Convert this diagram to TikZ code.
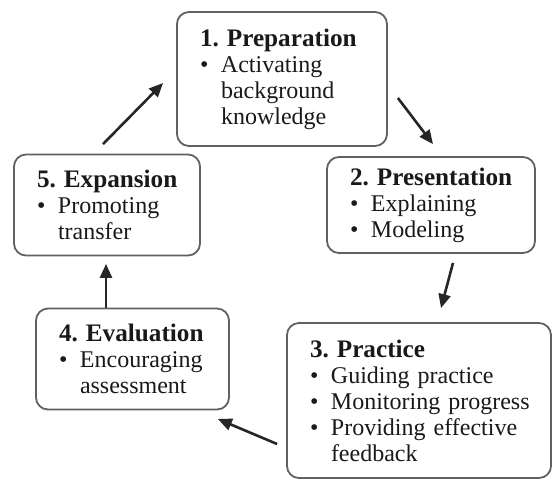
\documentclass[tikz,border=0pt]{standalone}
\usepackage{fontspec}
\setmainfont{Liberation Serif}
\usetikzlibrary{positioning,arrows.meta}
\hyphenpenalty=10000
\frenchspacing

\newcommand{\bul}{\makebox[10.5pt][l]{\textbullet}}
\newcommand{\ind}{\hspace*{10.5pt}}
\newcommand{\ttl}[1]{\mbox{\fontsize{12.6}{13}\selectfont\bfseries #1}}

\begin{document}
\begin{tikzpicture}[node distance=63pt,
    stage/.style={rectangle, draw=black!62, line width=0.9pt, rounded corners=6pt, align=left, inner xsep=11.5pt, inner ysep=0pt, text=black!90, font=\fontsize{12}{13}\selectfont},
    flow/.style={-{Triangle[length=7pt,width=6pt]}, line width=1.3pt, black!85}]
    \useasboundingbox (0,0) rectangle (276pt,-239.5pt);

    % Stages
    \node (prep) [stage, text width=82pt, minimum height=67pt] at (141pt,-39.5pt) {\ttl{1. Preparation}\\ \bul Activating\\ \ind background\\ \ind knowledge};
    \node (pres) [stage, text width=81pt, minimum height=48pt, below of=prep, xshift=74.5pt] {\ttl{2. Presentation}\\ \bul Explaining\\ \bul Modeling};
    \node (expa) [stage, text width=70pt, minimum height=50.5pt, below of=prep, xshift=-87.5pt] {\ttl{5. Expansion}\\ \bul Promoting\\ \ind transfer};
    \node (prac) [stage, text width=109pt, minimum height=77.5pt, below of=pres, xshift=-6pt, yshift=-34.75pt] {\ttl{3. Practice}\\ \bul Guiding~practice\\ \bul Monitoring~progress\\ \bul Providing~effective\\ \ind feedback};
    \node (eval) [stage, text width=73.5pt, minimum height=50.5pt, below of=expa, xshift=12.75pt, yshift=-14pt] {\ttl{4. Evaluation}\\ \bul Encouraging\\ \ind assessment};

    % Arrows
    \draw[flow] ([shift={(5pt,-9.5pt)}]prep.east) -- ([shift={(1pt,6pt)}]pres.north);
    \draw[flow] ([shift={(11pt,-4.5pt)}]pres.south) -- ([shift={(11pt,7pt)}]prac.north);
    \draw[flow] ([shift={(-4.5pt,-21.75pt)}]prac.west) -- ([shift={(-6pt,-30pt)}]eval.east);
    \draw[flow] ([shift={(-13.25pt,0pt)}]eval.north) -- ([shift={(-0.5pt,-3.75pt)}]expa.south);
    \draw[flow] ([shift={(-2pt,4.75pt)}]expa.north) -- ([shift={(-6.5pt,-2pt)}]prep.west);
\end{tikzpicture}
\end{document}
